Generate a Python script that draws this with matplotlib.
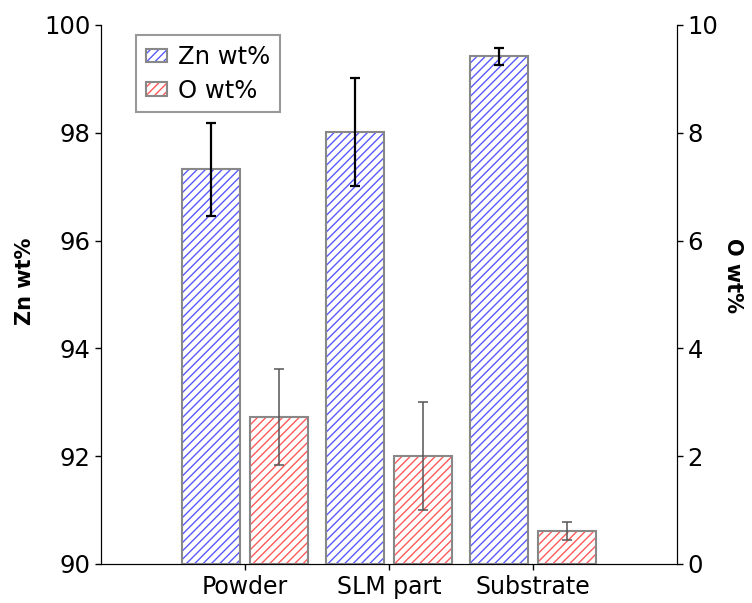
import matplotlib
matplotlib.use("Agg")
import matplotlib.pyplot as plt
import numpy as np
from matplotlib.patches import Patch
from matplotlib.legend_handler import HandlerTuple

categories = ["Powder", "SLM part", "Substrate"]
zn_values = [97.32, 98.02, 99.42]
zn_errors = [0.86, 1.0, 0.16]
o_values = [2.73, 2.01, 0.61]
o_errors = [0.89, 1.0, 0.17]

plt.rcParams['font.family'] = ['DejaVu Sans']
plt.rcParams['hatch.linewidth'] = 1.0

fig = plt.figure(figsize=(7.52, 6.03), dpi=100)
ax = fig.add_axes([0.1343, 0.0647, 0.766, 0.8939])
ax2 = ax.twinx()

x = np.arange(1, len(categories) + 1)
w = 0.40
off = 0.235
blue = "#5a5aff"
red = "#ff5a5a"
edge = "#888888"
hatch = "////"

# Zn bars (left axis)
ax.bar(x - off, np.array(zn_values) - 90, bottom=90, width=w, facecolor="white",
       edgecolor=blue, hatch=hatch, linewidth=0, zorder=2)
ax.bar(x - off, np.array(zn_values) - 90, bottom=90, width=w, fill=False,
       edgecolor=edge, linewidth=1.5, zorder=3)
ax.errorbar(x - off, zn_values, yerr=zn_errors, fmt="none", ecolor="black",
            elinewidth=1.6, capsize=3.5, capthick=1.6, zorder=4)

# O bars (right axis)
ax2.bar(x + off, o_values, width=w, facecolor="white",
        edgecolor=red, hatch=hatch, linewidth=0, zorder=2)
ax2.bar(x + off, o_values, width=w, fill=False,
        edgecolor=edge, linewidth=1.5, zorder=3)
ax2.errorbar(x + off, o_values, yerr=o_errors, fmt="none", ecolor="#555555",
             elinewidth=1.1, capsize=3.5, capthick=1.1, zorder=4)

ax.set_xlim(0, 4)
ax.set_ylim(90, 100)
ax2.set_ylim(0, 10)
ax.set_yticks([90, 92, 94, 96, 98, 100])
ax2.set_yticks([0, 2, 4, 6, 8, 10])
ax.set_xticks(x)
ax.set_xticklabels(categories)

for a in (ax, ax2):
    a.spines['top'].set_visible(False)
    a.tick_params(axis='both', direction='out', length=4, width=1, labelsize=17.5)
ax.tick_params(axis='x', labelsize=17, pad=4)

ax.set_ylabel("Zn wt%", fontsize=15, fontweight='bold', va='center')
ax2.set_ylabel("O wt%", fontsize=15, fontweight='bold', rotation=270, va='center')
ax.yaxis.set_label_coords(-0.132, 0.525)
ax2.yaxis.set_label_coords(1.097, 0.535)

handles = [(Patch(facecolor="white", edgecolor=blue, hatch=hatch, linewidth=0),
            Patch(fill=False, edgecolor=edge, linewidth=1.5)),
           (Patch(facecolor="white", edgecolor=red, hatch=hatch, linewidth=0),
            Patch(fill=False, edgecolor=edge, linewidth=1.5))]
leg = ax.legend(handles, ["Zn wt%", "O wt%"], loc="upper left",
                bbox_to_anchor=(0.061, 0.981), borderaxespad=0,
                fontsize=17.5, frameon=True, fancybox=False,
                handlelength=0.86, handleheight=0.45,
                borderpad=0.4, labelspacing=0.4, handletextpad=0.45,
                handler_map={tuple: HandlerTuple(ndivide=1, pad=0)})
leg.get_frame().set_edgecolor("#808080")
leg.get_frame().set_linewidth(1.5)
ax.set_zorder(ax2.get_zorder() + 1)
ax.patch.set_visible(False)

fig.savefig("out.png", dpi=100)
